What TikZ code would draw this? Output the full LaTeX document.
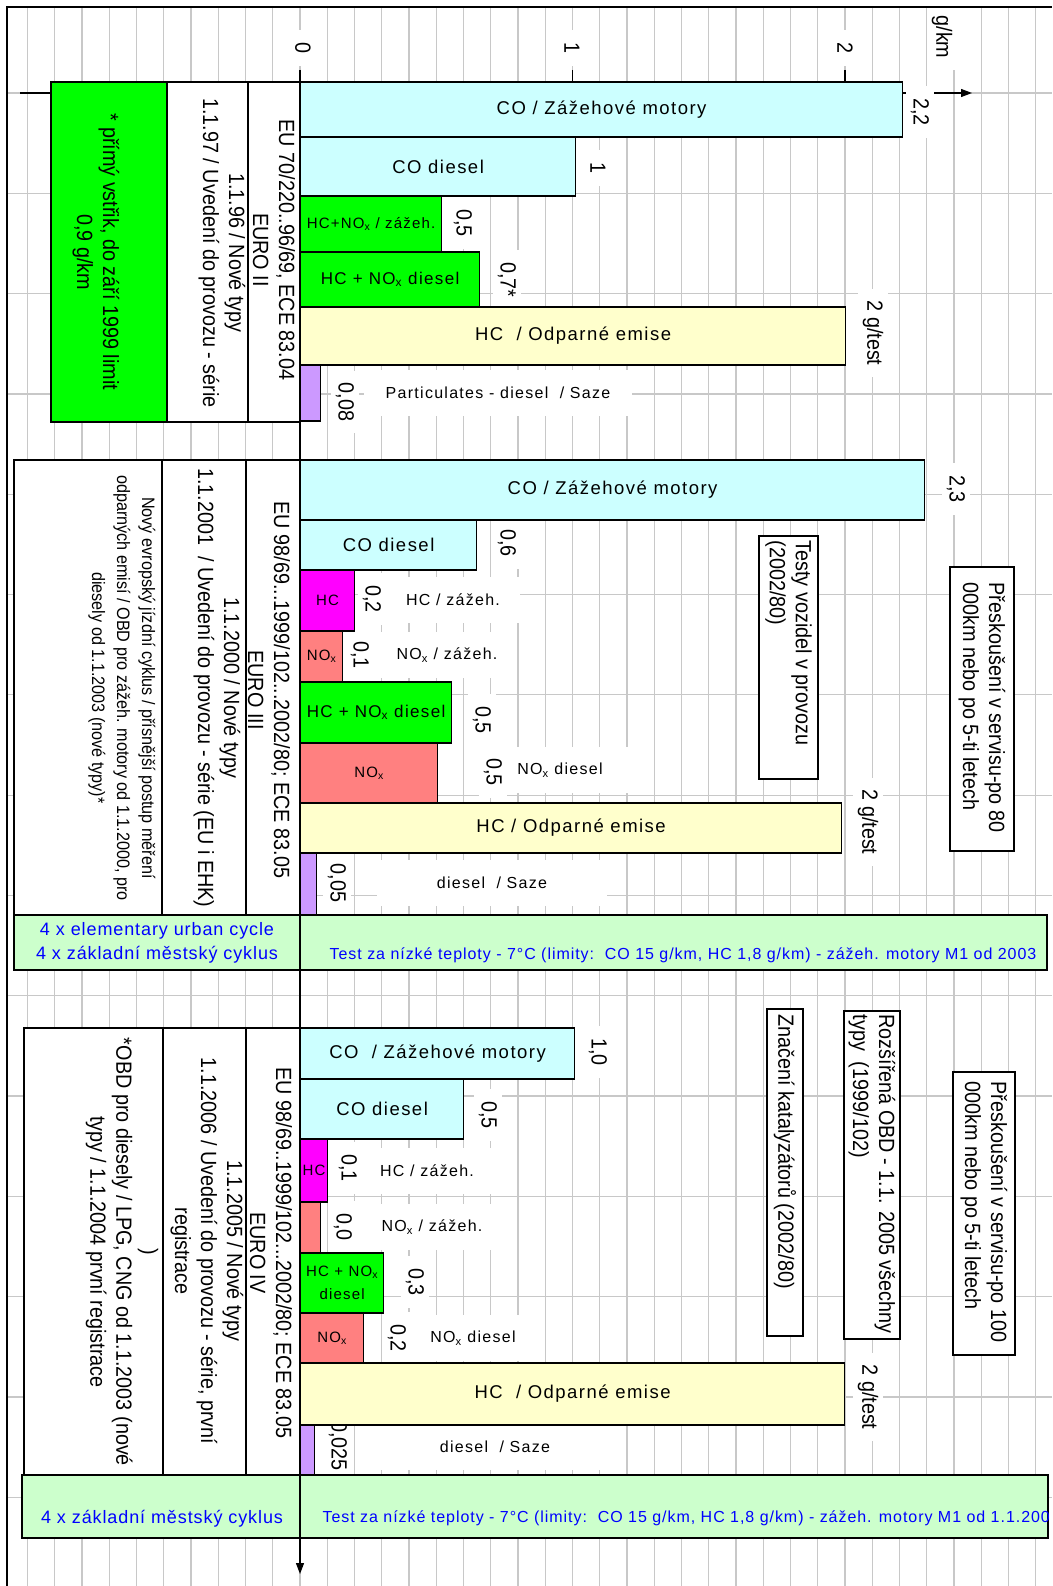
\documentclass[tikz,border=0pt]{standalone}
\usepackage{fontspec}
\setmainfont{Liberation Sans}
\newfontfamily\narrowfam[FakeStretch=0.9]{Liberation Sans}
\newfontfamily\widefam[LetterSpace=8]{Liberation Sans}
\newfontfamily\bandfam[LetterSpace=5]{Liberation Sans}
\newfontfamily\longfam[LetterSpace=6]{Liberation Sans}
\usetikzlibrary{arrows.meta}
\definecolor{cocyan}{HTML}{CCFFFF}
\definecolor{hcgreen}{HTML}{00FF00}
\definecolor{hcmagenta}{HTML}{FF00FF}
\definecolor{noxred}{HTML}{FF8080}
\definecolor{evapyellow}{HTML}{FFFFCC}
\definecolor{pmviolet}{HTML}{CC99FF}
\definecolor{bandgreen}{HTML}{CCFFCC}
\definecolor{bandblue}{HTML}{0000FF}
\definecolor{gridgray}{HTML}{C8C8C8}
\newcommand\cellfont{\narrowfam\fontsize{22}{26}\selectfont}
\newcommand\smallcellfont{\narrowfam\fontsize{18}{25}\selectfont}
\newcommand\barfont{\widefam\fontsize{18.5}{22}\selectfont}
\newcommand\midbarfont{\widefam\fontsize{17}{21}\selectfont}
\newcommand\smallbarfont{\widefam\fontsize{15}{23}\selectfont}
\newcommand\outfont{\widefam\fontsize{16}{19}\selectfont}
\newcommand\bandfont{\bandfam\fontsize{18}{24}\selectfont}
\newcommand\longbandfont{\longfam\fontsize{16}{24}\selectfont}

\begin{document}
\begin{tikzpicture}[x=1pt, y=-1pt,
    gridline/.style={draw=gridgray, line width=1.2pt},
    axisline/.style={draw=black, line width=1.2pt},
    bar/.style={draw=black, line width=1.2pt, anchor=west, inner sep=0pt,
                align=center, font=\barfont},
    cell/.style={draw=black, line width=1.2pt, fill=white},
    ctext/.style={rotate=-90, align=center, font=\cellfont},
    vlab/.style={rotate=-90, fill=white, inner xsep=12pt, inner ysep=5pt, font=\cellfont},
    olab/.style={fill=white, inner xsep=20pt, minimum height=46pt, font=\outfont},
    notebox/.style={draw=black, line width=1.2pt, fill=white},
    notetext/.style={rotate=-90, anchor=west, align=left, inner sep=0pt, font=\cellfont},
    band/.style={draw=black, line width=1.2pt, fill=bandgreen},
    bandtext/.style={text=bandblue, align=center, font=\bandfont},
]
    \useasboundingbox (0,0) rectangle (1052,1586);

    % grid of cells
    \foreach \k in {-10,...,27}
        \draw[gridline] ({300+27.25*\k},7) -- ({300+27.25*\k},1586);
    \foreach \k in {0,...,14}
        \draw[gridline] (7,{93+100.3*\k}) -- (1052,{93+100.3*\k});

    % axes
    \coordinate (xfrom) at (20,93);
    \coordinate (xto) at (972,93);
    \coordinate (yfrom) at (300,70);
    \coordinate (yto) at (300,1574);
    \draw[axisline, -{Triangle[length=11pt,width=8pt]}] (xfrom) -- (xto);
    \draw[axisline, -{Triangle[length=11pt,width=8pt]}] (yfrom) -- (yto);
    \draw[axisline] (572.5,70) -- (572.5,93);
    \draw[axisline] (845,70) -- (845,93);

    \node[vlab] (s0) at (303,48) {0};
    \node[vlab] (s1) at (572,48) {1};
    \node[vlab] (s2) at (845,48) {2};
    \node[vlab] (unit) at (942,37) {g/km};

    % labels beside the bars
    \node[olab, inner xsep=22pt] (pm1l) at (498,393) {Particulates - diesel~~/ Saze};
    \node[olab] (hc2l) at (453,600) {HC / zážeh.};
    \node[olab] (nox2l) at (447,655) {NO\textsubscript{x} / zážeh.};
    \node[olab, inner xsep=35pt] (noxd2l) at (560,770) {NO\textsubscript{x} diesel};
    \node[olab, inner xsep=60pt] (pm2l) at (492,883) {diesel~~/ Saze};
    \node[olab] (hc3l) at (427,1171) {HC / zážeh.};
    \node[olab] (nox3l) at (432,1227) {NO\textsubscript{x} / zážeh.};
    \node[olab] (noxd3l) at (473,1338) {NO\textsubscript{x} diesel};
    \node[olab, inner xsep=60pt] (pm3l) at (495,1447) {diesel~~/ Saze};

    % limit values
    \node[vlab] (co1v) at (920,112) {2,2};
    \node[vlab] (cod1v) at (598,168) {1};
    \node[vlab] (hcn1v) at (463,223) {0,5};
    \node[vlab] (hcnd1v) at (507,280) {0,7*};
    \node[vlab] (ev1v) at (873,333) {2 g/test};
    \node[vlab] (pm1v) at (345,402) {0,08};

    \node[vlab] (co2v) at (956,489) {2,3};
    \node[vlab] (cod2v) at (507,543) {0,6};
    \node[vlab] (hc2v) at (372,599) {0,2};
    \node[vlab] (nox2v) at (360,655) {0,1};
    \node[vlab] (hcnd2v) at (482,720) {0,5};
    \node[vlab] (noxd2v) at (493,772) {0,5};
    \node[vlab] (ev2v) at (868,822) {2 g/test};
    \node[vlab] (pm2v) at (337,883) {0,05};

    \node[vlab] (co3v) at (598,1052) {1,0};
    \node[vlab] (cod3v) at (488,1115) {0,5};
    \node[vlab] (hc3v) at (348,1168) {0,1};
    \node[vlab] (nox3v) at (343,1227) {0,0};
    \node[vlab] (hcnd3v) at (415,1282) {0,3};
    \node[vlab] (noxd3v) at (397,1338) {0,2};
    \node[vlab] (ev3v) at (868,1397) {2 g/test};
    \node[vlab] (pm3v) at (338,1446) {0,025};

    % EURO II bars
    \node[bar, fill=cocyan, minimum width=602pt, minimum height=55pt] (co1) at (300,109.5) {CO / Zážehové motory};
    \node[bar, fill=cocyan, minimum width=275pt, minimum height=59pt] (cod1) at (300,166.5) {CO diesel};
    \node[bar, fill=hcgreen, minimum width=141pt, minimum height=56pt, font=\smallbarfont] (hcn1) at (300,224) {HC+NO\textsubscript{x} / zážeh.};
    \node[bar, fill=hcgreen, minimum width=179pt, minimum height=55pt, font=\midbarfont] (hcnd1) at (300,279.5) {HC + NO\textsubscript{x} diesel};
    \node[bar, fill=evapyellow, minimum width=545pt, minimum height=58pt] (ev1) at (300,336) {HC~~/ Odparné emise};
    \node[bar, fill=pmviolet, minimum width=20pt, minimum height=56pt] (pm1) at (300,393) {};

    % EURO III bars
    \node[bar, fill=cocyan, minimum width=624pt, minimum height=60pt] (co2) at (300,490) {CO / Zážehové motory};
    \node[bar, fill=cocyan, minimum width=176pt, minimum height=50pt] (cod2) at (300,545) {CO diesel};
    \node[bar, fill=hcmagenta, minimum width=54pt, minimum height=61pt, font=\smallbarfont] (hc2) at (300,600.5) {HC};
    \node[bar, fill=noxred, minimum width=42pt, minimum height=51pt, font=\smallbarfont] (nox2) at (300,656.5) {NO\textsubscript{x}};
    \node[bar, fill=hcgreen, minimum width=151pt, minimum height=61pt, font=\midbarfont] (hcnd2) at (300,712.5) {HC + NO\textsubscript{x} diesel};
    \node[bar, fill=noxred, minimum width=137pt, minimum height=60pt, font=\smallbarfont] (noxd2) at (300,773) {NO\textsubscript{x}};
    \node[bar, fill=evapyellow, minimum width=541pt, minimum height=50pt] (ev2) at (300,828) {HC / Odparné emise};
    \node[bar, fill=pmviolet, minimum width=16pt, minimum height=62pt] (pm2) at (300,884) {};

    % EURO IV bars
    \node[bar, fill=cocyan, minimum width=274pt, minimum height=51pt] (co3) at (300,1053.5) {CO~~/ Zážehové motory};
    \node[bar, fill=cocyan, minimum width=163pt, minimum height=60pt] (cod3) at (300,1109) {CO diesel};
    \node[bar, fill=hcmagenta, minimum width=27pt, minimum height=63pt, font=\smallbarfont] (hc3) at (300,1170.5) {HC};
    \node[bar, fill=noxred, minimum width=20pt, minimum height=51pt] (nox3) at (300,1227.5) {};
    \node[bar, fill=hcgreen, minimum width=83pt, minimum height=60pt, font=\smallbarfont] (hcnd3) at (300,1283) {HC + NO\textsubscript{x}\\diesel};
    \node[bar, fill=noxred, minimum width=63pt, minimum height=50pt, font=\smallbarfont] (noxd3) at (300,1338) {NO\textsubscript{x}};
    \node[bar, fill=evapyellow, minimum width=544pt, minimum height=62pt] (ev3) at (300,1394) {HC~~/ Odparné emise};
    \node[bar, fill=pmviolet, minimum width=14pt, minimum height=50pt] (pm3) at (300,1450) {};

    % EURO II table
    \node[cell, fill=hcgreen, minimum width=116pt, minimum height=340pt] (inj1) at (109,252) {};
    \node[cell, minimum width=81pt, minimum height=340pt] (date1) at (207.5,252) {};
    \node[cell, minimum width=52pt, minimum height=340pt] (norm1) at (274,252) {};
    \node[ctext] (norm1t) at (274,250) {EU 70/220..96/69, ECE 83.04\\EURO II};
    \node[ctext] (date1t) at (222,253) {1.1.96 / Nové typy\\1.1.97 / Uvedení do provozu - série};
    \node[ctext] (inj1t) at (96,252) {* přímý vstřik, do září 1999 limit\\0,9 g/km};

    % EURO III table
    \node[cell, minimum width=148pt, minimum height=455pt] (note2) at (88,687.5) {};
    \node[cell, minimum width=84pt, minimum height=455pt] (date2) at (204,687.5) {};
    \node[cell, minimum width=54pt, minimum height=455pt] (norm2) at (273,687.5) {};
    \node[ctext] (norm2t) at (269,690) {EU 98/69...1999/102...2002/80; ECE 83.05\\EURO III};
    \node[ctext] (date2t) at (217,688) {1.1.2000 / Nové typy\\1.1.2001~~/ Uvedení do provozu - série (EU i EHK)};
    \node[ctext, font=\smallcellfont] (note2t) at (122,688) {Nový evropský jízdní cyklus / přísnější postup měření\\odparných emisí / OBD pro zážeh. motory od 1.1.2000, pro\\diesely od 1.1.2003 (nové typy)*};

    \node[band, minimum width=286pt, minimum height=55pt] (cyc2) at (157,942.5) {};
    \node[band, minimum width=747pt, minimum height=55pt] (cold2) at (673.5,942.5) {};
    \node[bandtext] (cyc2t) at (157,943) {4 x elementary urban cycle\\4 x základní městský cyklus};
    \node[bandtext, font=\longbandfont] (cold2t) at (683,955) {Test za nízké teploty - 7°C (limity:~~CO 15 g/km, HC 1,8 g/km) - zážeh. motory M1 od 2003};

    % EURO IV table
    \node[cell, minimum width=139pt, minimum height=447pt] (note3) at (93.5,1251.5) {};
    \node[cell, minimum width=83pt, minimum height=447pt] (date3) at (204.5,1251.5) {};
    \node[cell, minimum width=54pt, minimum height=447pt] (norm3) at (273,1251.5) {};
    \node[ctext] (norm3t) at (271,1253) {EU 98/69..1999/102...2002/80; ECE 83.05\\EURO IV};
    \node[ctext] (date3t) at (207,1251) {1.1.2005 / Nové typy\\1.1.2006 / Uvedení do provozu - série, první\\registrace};
    \node[ctext] (note3t) at (122,1252) {)\\*OBD pro diesely / LPG, CNG od 1.1.2003 (nové\\typy / 1.1.2004 první registrace};

    \node[band, minimum width=278pt, minimum height=63pt] (cyc3) at (161,1506.5) {};
    \node[band, minimum width=748pt, minimum height=63pt] (cold3) at (674,1506.5) {};
    \node[bandtext] (cyc3t) at (162,1519) {4 x základní městský cyklus};
    \begin{scope}
        \clip (cold3.south west) rectangle (cold3.north east);
        \node[bandtext, font=\longbandfont, anchor=west] (cold3t) at (319,1518) {Test za nízké teploty - 7°C (limity:~~CO 15 g/km, HC 1,8 g/km) - zážeh. motory M1 od 1.1.2003};
    \end{scope}

    % notes on the right
    \node[notebox, minimum width=59pt, minimum height=243pt] (test2) at (788.5,657.5) {};
    \node[notetext] (test2t) at ([yshift=-5pt]test2.north) {Testy vozidel v provozu\\(2002/80)};
    \node[notebox, minimum width=64pt, minimum height=284pt] (serv2) at (982,709) {};
    \node[notetext] (serv2t) at ([yshift=-16pt]serv2.north) {Přeskoušení v servisu-po 80\\000km nebo po 5-ti letech};
    \node[notebox, minimum width=36pt, minimum height=327pt] (cat3) at (785,1172.5) {};
    \node[notetext] (cat3t) at ([yshift=-6pt]cat3.north) {Značení katalyzátorů (2002/80)};
    \node[notebox, minimum width=56pt, minimum height=328pt] (obd3) at (872,1175) {};
    \node[notetext] (obd3t) at ([yshift=-4pt]obd3.north) {Rozšířená OBD - 1.1. 2005 všechny\\typy~~(1999/102)};
    \node[notebox, minimum width=62pt, minimum height=283pt] (serv3) at (984,1213.5) {};
    \node[notetext] (serv3t) at ([yshift=-10pt]serv3.north) {Přeskoušení v servisu-po 100\\000km nebo po 5-ti letech};

    % frame
    \draw[line width=2.5pt] (7,1586) -- (7,7) -- (1052,7);
\end{tikzpicture}
\end{document}
